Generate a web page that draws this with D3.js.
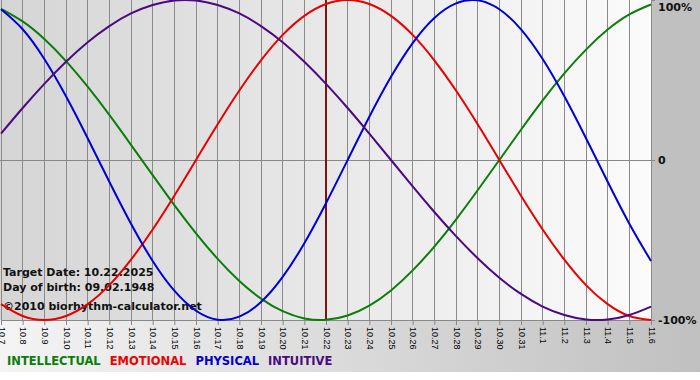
<!DOCTYPE html>
<html>
<head>
<meta charset="utf-8">
<script src="https://cdn.jsdelivr.net/npm/d3@7"></script>
<style>
    html, body { margin: 0; padding: 0; background: #fff; }
    svg { display: block; font-family: "DejaVu Sans", Verdana, sans-serif; }
</style>
</head>
<body>
<svg id="chart" width="700" height="380"></svg>
<script>
// Days shown (month.day)
const days = ["10.7", "10.8", "10.9", "10.10", "10.11", "10.12", "10.13", "10.14", "10.15", "10.16",
    "10.17", "10.18", "10.19", "10.20", "10.21", "10.22", "10.23", "10.24", "10.25", "10.26",
    "10.27", "10.28", "10.29", "10.30", "10.31", "11.1", "11.2", "11.3", "11.4", "11.5", "11.6"];

// Cycle values (-1 .. 1)
const intellectual = [0.945, 0.866, 0.756, 0.618, 0.458, 0.282, 0.095, -0.095, -0.282, -0.458, -0.618,
    -0.756, -0.866, -0.945, -0.990, -0.999, -0.972, -0.910, -0.815, -0.690, -0.541, -0.372, -0.189,
    0.000, 0.189, 0.372, 0.541, 0.690, 0.815, 0.910, 0.972];
const emotional = [-0.901, -0.975, -1.000, -0.975, -0.901, -0.782, -0.623, -0.434, -0.223, 0.000, 0.223,
    0.434, 0.623, 0.782, 0.901, 0.975, 1.000, 0.975, 0.901, 0.782, 0.623, 0.434, 0.223, 0.000,
    -0.223, -0.434, -0.623, -0.782, -0.901, -0.975, -1.000];
const physical = [0.942, 0.817, 0.631, 0.398, 0.136, -0.136, -0.398, -0.631, -0.817, -0.942, -0.998,
    -0.979, -0.888, -0.731, -0.520, -0.270, 0.000, 0.270, 0.520, 0.731, 0.888, 0.979, 0.998, 0.942,
    0.817, 0.631, 0.398, 0.136, -0.136, -0.398, -0.631];
const intuitive = [0.165, 0.325, 0.476, 0.614, 0.736, 0.837, 0.916, 0.969, 0.997, 0.997, 0.969, 0.916,
    0.837, 0.736, 0.614, 0.476, 0.325, 0.165, 0.000, -0.165, -0.325, -0.476, -0.614, -0.736, -0.837,
    -0.916, -0.969, -0.997, -0.997, -0.969, -0.916];

const targetDay = "10.22";
const infoLines = ["Target Date: 10.22.2025", "Day of birth: 09.02.1948", "\u00a92010 biorhythm-calculator.net"];
const yTicks = [1, 0, -1];
const yTickLabels = ["100%", "0", "-100%"];

const series = [
    { name: "INTELLECTUAL", values: intellectual, color: "#0a7d0a", text: "#0a7d0a" },
    { name: "EMOTIONAL", values: emotional, color: "#e80000", text: "#f00000" },
    { name: "PHYSICAL", values: physical, color: "#0000d8", text: "#0000d0" },
    { name: "INTUITIVE", values: intuitive, color: "#4a0a80", text: "#4a0a80" }
];

const svg = d3.select("#chart");
const W = 700, H = 380;
const plotRight = 651, plotBottom = 320;

// 1. Backgrounds
const defs = svg.append("defs");
const gPlot = defs.append("linearGradient").attr("id", "plotBg").attr("x1", 0).attr("x2", 1).attr("y1", 0).attr("y2", 0);
gPlot.append("stop").attr("offset", 0).attr("stop-color", "#d5d5d5");
gPlot.append("stop").attr("offset", 1).attr("stop-color", "#fbfbfb");
const gBottom = defs.append("linearGradient").attr("id", "bottomBg").attr("x1", 0).attr("x2", 1).attr("y1", 0).attr("y2", 0);
gBottom.append("stop").attr("offset", 0).attr("stop-color", "#f4f4f4");
gBottom.append("stop").attr("offset", 1).attr("stop-color", "#c0c0c0");

svg.append("rect").attr("width", W).attr("height", H).attr("fill", "#fff");
svg.append("rect").attr("x", 0).attr("y", plotBottom).attr("width", W).attr("height", 52).attr("fill", "url(#bottomBg)");
svg.append("rect").attr("x", plotRight).attr("y", 0).attr("width", W - plotRight).attr("height", plotBottom).attr("fill", "#c0c0c0");
svg.append("rect").attr("x", 0).attr("y", 0).attr("width", plotRight).attr("height", plotBottom).attr("fill", "url(#plotBg)");

// 2. Scales
const x = d3.scalePoint().domain(days).range([1, plotRight]);
const y = d3.scaleLinear().domain([-1, 1]).range([plotBottom, 0]);

// --- Vertical grid + bottom axis ---
const xAxis = svg.append("g")
    .attr("transform", `translate(0,${plotBottom})`)
    .call(d3.axisBottom(x).tickSize(5).tickSizeOuter(0).tickPadding(0));
xAxis.select(".domain").attr("stroke", "#888");
xAxis.selectAll(".tick line").attr("stroke", "#888");
xAxis.selectAll(".tick text")
    .attr("font-family", "'Liberation Sans', Arial, sans-serif")
    .attr("font-size", 9)
    .attr("fill", "#000")
    .attr("text-anchor", "start")
    .attr("dy", null)
    .attr("dominant-baseline", "central")
    .attr("transform", "translate(0,7) rotate(90)")
    .attr("y", 0).attr("x", 0);

svg.append("g").selectAll("line")
    .data(days)
    .join("line")
    .attr("x1", d => x(d)).attr("x2", d => x(d))
    .attr("y1", 0).attr("y2", plotBottom)
    .attr("stroke", "#8a8a8a").attr("stroke-width", 1)
    .attr("shape-rendering", "crispEdges");

// --- Horizontal lines + right axis ---
const yAxis = svg.append("g")
    .attr("transform", `translate(${plotRight},0)`)
    .call(d3.axisRight(y).tickValues(yTicks).tickSize(4).tickPadding(3)
        .tickFormat((d, i) => yTickLabels[i]));
yAxis.select(".domain").remove();
yAxis.selectAll(".tick line").attr("stroke", "#888");
yAxis.selectAll(".tick text")
    .attr("font-size", 11).attr("font-weight", "bold").attr("fill", "#111")
    .attr("font-family", "'DejaVu Sans', Verdana, sans-serif");
// top label sits just below the edge
yAxis.selectAll(".tick").filter(d => d === 1).select("text").attr("y", 7).attr("dy", "0.35em");

svg.append("line")
    .attr("x1", 0).attr("x2", plotRight)
    .attr("y1", y(0)).attr("y2", y(0))
    .attr("stroke", "#888").attr("shape-rendering", "crispEdges");

// --- Target day marker ---
svg.append("line")
    .attr("x1", x(targetDay)).attr("x2", x(targetDay))
    .attr("y1", 0).attr("y2", plotBottom)
    .attr("stroke", "#7a1515").attr("stroke-width", 2);

// --- Info text ---
svg.append("g").selectAll("text")
    .data(infoLines)
    .join("text")
    .attr("x", 3)
    .attr("y", (d, i) => [276, 291, 310][i])
    .attr("font-size", 11).attr("font-weight", "bold").attr("fill", "#111")
    .text(d => d);

// --- Curves ---
const line = d3.line()
    .x((d, i) => x(days[i]))
    .y(d => y(d))
    .curve(d3.curveNatural);

svg.append("g").selectAll("path")
    .data(series)
    .join("path")
    .attr("fill", "none")
    .attr("stroke", d => d.color)
    .attr("stroke-width", 2)
    .attr("d", d => line(d.values));

// --- Legend ---
const legend = svg.append("g").attr("font-size", 11.5).attr("font-weight", "bold");
let lx = 7;
series.forEach(s => {
    const t = legend.append("text")
        .attr("x", lx).attr("y", 365)
        .attr("fill", s.text)
        .text(s.name);
    lx += t.node().getComputedTextLength() + 9;
});
</script>
</body>
</html>
